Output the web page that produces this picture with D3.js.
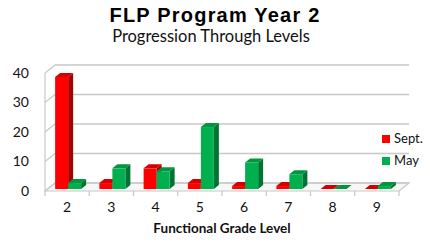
<!DOCTYPE html>
<html>
<head>
<meta charset="utf-8">
<script src="https://cdn.jsdelivr.net/npm/d3@7"></script>
<style>
  body { margin: 0; background: #fff; }
  svg { display: block; }
</style>
</head>
<body>
<div id="chart"></div>
<script>
const categories = ["2", "3", "4", "5", "6", "7", "8", "9"];
const series = ["Sept.", "May"];
const septValues = [38, 2, 7, 2, 1, 1, 0, 0];
const mayValues = [2, 7, 6, 21, 9, 5, 0, 1];
const yTicks = [0, 10, 20, 30, 40];

const colors = {
    "Sept.": { front: "#ff0000", top: "#d40000", side: "#a80000" },
    "May": { front: "#00b04f", top: "#00953f", side: "#007533" }
};

const width = 430, height = 249;
const depth = { dx: 10, dy: -8 };     // wall depth
const barDepth = { dx: 5, dy: -4 };   // bar depth

const svg = d3.select("#chart").append("svg")
    .attr("width", width)
    .attr("height", height);

const x = d3.scaleBand().domain(categories).range([45, 399]).padding(0);
const bw = x.bandwidth();
const x1 = d3.scaleBand().domain(series).range([bw / 2 - 12, bw / 2 + 14]);

const y = d3.scaleLinear().domain([0, 40]).range([191, 73]);
const yBar = d3.scaleLinear().domain([0, 40]).range([189, 71]);

const grid = "#c8c8c8";

// floor
const x0 = x.range()[0], xEnd = x.range()[1];
svg.append("path")
    .attr("d", `M${x0},${y(0)} L${xEnd},${y(0)} L${xEnd + depth.dx},${y(0) + depth.dy} L${x0 + depth.dx},${y(0) + depth.dy} Z`)
    .attr("fill", "#f7f7f7")
    .attr("stroke", grid)
    .attr("stroke-width", 1.2);

// grid lines on back wall + left wall diagonals
yTicks.forEach(t => {
    const yf = y(t);
    svg.append("line")
        .attr("x1", x0 + depth.dx).attr("x2", xEnd + depth.dx)
        .attr("y1", yf + depth.dy).attr("y2", yf + depth.dy)
        .attr("stroke", grid).attr("stroke-width", 1.5);
    svg.append("line")
        .attr("x1", x0).attr("x2", x0 + depth.dx)
        .attr("y1", yf).attr("y2", yf + depth.dy)
        .attr("stroke", grid).attr("stroke-width", 1.2);
});

// left axis line
svg.append("line")
    .attr("x1", x0).attr("x2", x0)
    .attr("y1", y(40)).attr("y2", y(0))
    .attr("stroke", grid).attr("stroke-width", 1.2);

// x ticks at category boundaries
const bounds = categories.map(c => x(c)).concat([xEnd]);
svg.selectAll(".xtick")
    .data(bounds)
    .enter().append("line")
    .attr("x1", d => d).attr("x2", d => d)
    .attr("y1", y(0)).attr("y2", y(0) + 5)
    .attr("stroke", grid).attr("stroke-width", 1.2);

// bars
const barData = [];
categories.forEach((c, i) => {
    barData.push({ cat: c, s: "Sept.", v: septValues[i] });
    barData.push({ cat: c, s: "May", v: mayValues[i] });
});

const bars = svg.append("g").selectAll("g")
    .data(barData)
    .enter().append("g");

bars.each(function (d) {
    const g = d3.select(this);
    const bx = x(d.cat) + x1(d.s);
    const w = x1.bandwidth();
    const top = yBar(d.v), bot = yBar(0);
    const c = colors[d.s];
    // side
    g.append("path")
        .attr("d", `M${bx + w},${top} L${bx + w + barDepth.dx},${top + barDepth.dy} L${bx + w + barDepth.dx},${bot + barDepth.dy} L${bx + w},${bot} Z`)
        .attr("fill", c.side);
    // top
    g.append("path")
        .attr("d", `M${bx},${top} L${bx + barDepth.dx},${top + barDepth.dy} L${bx + w + barDepth.dx},${top + barDepth.dy} L${bx + w},${top} Z`)
        .attr("fill", c.top);
    // front
    g.append("rect")
        .attr("x", bx).attr("y", top)
        .attr("width", w).attr("height", bot - top)
        .attr("fill", c.front);
});

// y axis labels
svg.append("g")
    .attr("transform", "translate(29,0)")
    .call(d3.axisLeft(y).tickValues(yTicks).tickSize(0).tickPadding(0))
    .call(g => g.select(".domain").remove())
    .selectAll("text")
    .attr("font-family", "Lato, 'DejaVu Sans', sans-serif")
    .attr("font-size", 14)
    .attr("fill", "#111");

// x axis labels
svg.append("g")
    .attr("transform", `translate(0,${y(0) + 6})`)
    .call(d3.axisBottom(x).tickSize(0).tickPadding(5))
    .call(g => g.select(".domain").remove())
    .selectAll("text")
    .attr("font-family", "Lato, 'DejaVu Sans', sans-serif")
    .attr("font-size", 14)
    .attr("fill", "#111");

// titles
svg.append("text")
    .attr("x", 215).attr("y", 22)
    .attr("text-anchor", "middle")
    .attr("font-family", "'Liberation Sans', Arial, sans-serif")
    .attr("font-weight", "bold")
    .attr("font-size", 20)
    .attr("letter-spacing", 1.2)
    .text("FLP Program Year 2");

svg.append("text")
    .attr("x", 211).attr("y", 42)
    .attr("text-anchor", "middle")
    .attr("font-family", "Lato, 'Open Sans', sans-serif")
    .attr("font-size", 16.5)
    .attr("fill", "#111")
    .text("Progression Through Levels");

svg.append("text")
    .attr("x", 222).attr("y", 233)
    .attr("text-anchor", "middle")
    .attr("font-family", "Lato, 'Open Sans', sans-serif")
    .attr("font-weight", "bold")
    .attr("font-size", 13.5)
    .attr("fill", "#111")
    .text("Functional Grade Level");

// legend
const legend = svg.append("g").selectAll("g")
    .data(series)
    .enter().append("g")
    .attr("transform", (d, i) => `translate(382,${135 + i * 22})`);
legend.append("rect")
    .attr("width", 8).attr("height", 8)
    .attr("fill", d => colors[d].front);
legend.append("text")
    .attr("x", 12).attr("y", 8)
    .attr("font-family", "Lato, 'Open Sans', sans-serif")
    .attr("font-size", 13)
    .attr("fill", "#111")
    .text(d => d);
</script>
</body>
</html>
